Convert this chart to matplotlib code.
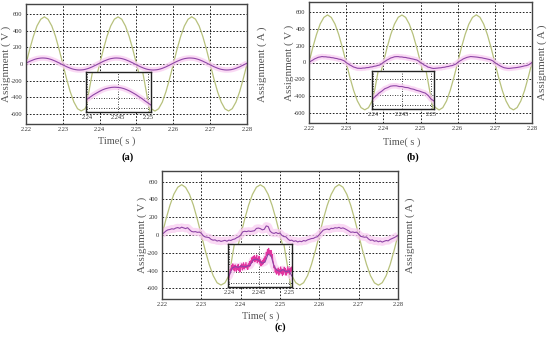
import matplotlib.pyplot as plt
import numpy as np

plt.rcParams['font.family'] = ['Liberation Serif', 'DejaVu Serif']
plt.rcParams['axes.unicode_minus'] = False

# grid voltage, one sample per 1 ms from 2.22 s to 2.28 s
voltage = [0, 176, 331, 458, 537, 566, 536, 457, 333, 174,
           0, -175, -332, -456, -537, -563, -538, -457, -331, -176,
           0, 175, 333, 457, 538, 565, 537, 456, 332, 175,
           0, -174, -333, -457, -536, -565, -537, -458, -332, -175,
           0, 176, 332, 456, 537, 567, 538, 457, 331, 174,
           0, -175, -331, -457, -538, -564, -536, -457, -333, -175, 0]

# phase currents, one sample per 0.5 ms
current_a = [10, 21, 32, 41, 50, 58, 64, 68, 71, 72, 71, 69, 65, 59, 52, 43, 34, 23, 13, 1,
             -10, -21, -32, -41, -50, -58, -64, -68, -71, -72, -71, -69, -65, -59, -52, -43, -34, -23, -13, -1,
             10, 21, 32, 41, 50, 58, 64, 68, 71, 72, 71, 69, 65, 59, 52, 43, 34, 23, 13, 1,
             -10, -21, -32, -41, -50, -58, -64, -68, -71, -72, -71, -69, -65, -59, -52, -43, -34, -23, -13, -1,
             10, 21, 32, 41, 50, 58, 64, 68, 71, 72, 71, 69, 65, 59, 52, 43, 34, 23, 13, 1,
             -10, -21, -32, -41, -50, -58, -64, -68, -71, -72, -71, -69, -65, -59, -52, -43, -34, -23, -13, -1,
             10]

current_b = [2, 16, 28, 43, 52, 62, 66, 71, 68, 68, 64, 63, 58, 56, 50, 47, 40, 37, 28, 19,
             -1, -14, -30, -41, -54, -60, -68, -69, -70, -66, -66, -61, -60, -54, -52, -45, -42, -35, -30, -17,
             1, 15, 30, 41, 54, 60, 68, 70, 70, 66, 66, 61, 60, 54, 51, 45, 41, 35, 30, 17,
             -3, -13, -31, -40, -55, -59, -67, -71, -69, -67, -64, -63, -58, -56, -50, -47, -40, -37, -28, -19,
             0, 16, 28, 43, 52, 61, 66, 71, 69, 67, 65, 62, 58, 56, 50, 46, 41, 36, 29, 18,
             -2, -15, -29, -42, -53, -62, -66, -70, -70, -67, -64, -62, -59, -55, -51, -46, -40, -37, -29, -17,
             1]

current_c = [8, 25, 45, 58, 62, 70, 66, 78, 84, 75, 88, 80, 72, 82, 60, 40, 35, 38, 30, 33,
             20, -10, -22, -25, -30, -50, -58, -55, -68, -62, -72, -66, -60, -70, -58, -62, -50, -45, -30, -20,
             -2, 35, 42, 38, 45, 40, 44, 48, 74, 78, 72, 58, 64, 102, 95, 42, 24, 18, 28, 16,
             22, -5, -18, -20, -45, -62, -58, -72, -65, -78, -70, -75, -62, -68, -55, -48, -40, -38, -25, -20,
             5, 30, 55, 62, 68, 60, 75, 72, 82, 78, 86, 74, 80, 70, 58, 45, 30, 34, 28, 32,
             10, -15, -20, -25, -22, -45, -60, -55, -70, -64, -76, -68, -80, -70, -62, -66, -50, -40, -30, -18,
             -5]

# unfiltered current of (c) inside the zoom window, one sample per 0.1 ms from 2.2398 s
raw_c = [-40, -20, -5, 10, 30, 22, 48, 30, 55, 25, 45, 20, 50, 35, 18, 45, 28, 52, 22, 40,
         15, 48, 36, 55, 25, 42, 60, 30, 50, 38, 62, 35, 48, 28, 55, 40, 66, 45, 70, 58,
         85, 62, 90, 70, 95, 65, 88, 72, 98, 60, 82, 66, 92, 58, 75, 45, 68, 50, 72, 55,
         80, 62, 90, 78, 110, 95, 125, 100, 130, 105, 118, 92, 120, 85, 100, 70, 58, 35, 45, 15,
         30, 5, 25, 10, 35, 0, 28, 12, 40, 8, 30, -2, 22, 5, 38, 15, 32, 0, 25, 10,
         42, 12, 30, 5, 35, 18, 40, 20, 30]

x_ticks = [2.22, 2.23, 2.24, 2.25, 2.26, 2.27, 2.28]
y_ticks = [-600, -400, -200, 0, 200, 400, 600]
zoom_ticks = [2.24, 2.245, 2.25]
zoom_tick_labels = ['2.24', '2.245', '2.25']

t_v = np.linspace(2.22, 2.28, len(voltage))
t_i = np.linspace(2.22, 2.28, len(current_a))
t_raw = 2.2398 + 0.0001 * np.arange(len(raw_c))

W, H = 550, 344
fig = plt.figure(figsize=(W / 100, H / 100), dpi=100)


def px(l, t, r, b):
    return [l / W, 1 - b / H, (r - l) / W, (b - t) / H]


def put(x, y, s, **kw):
    fig.text(x / W, 1 - y / H, s, ha='center', va='center', **kw)


GREEN = '#b7c17c'
PURPLE = '#8e44a6'
PINK = '#f9cdf1'
MAGENTA = '#e2349e'
GRID = dict(color='k', linestyle=(0, (2, 2)), linewidth=0.6)


def draw(ax, current, band):
    ax.plot(t_v, voltage, color=GREEN, lw=0.9)
    ax.plot(t_i, current, color=PINK, lw=band, alpha=0.75, solid_capstyle='butt')
    ax.plot(t_i, current, color=PURPLE, lw=0.8)


def panel(box, zoom_box, current, band, letter, ylab_l, ylab_r, xlab, let_pos, raw=False):
    l, t, r, b = box
    ax = fig.add_axes(px(*box))
    draw(ax, current, band)
    ax.set_xlim(2.22, 2.28)
    ax.set_ylim(-720, 720)
    ax.set_xticks(x_ticks)
    ax.set_xticklabels([f'{v:.2f}' for v in x_ticks])
    ax.set_yticks(y_ticks)
    ax.tick_params(labelsize=4.6, length=0, pad=2.5, labelcolor='#333333')
    ax.grid(True, **GRID)
    for s in ax.spines.values():
        s.set_color('#444444')
        s.set_linewidth(1)

    ins = fig.add_axes(px(*zoom_box))
    ins.set_facecolor('white')
    if raw:
        ins.plot(t_v, voltage, color=GREEN, lw=0.9)
        ins.plot(t_i, current, color=PINK, lw=band, alpha=0.75)
        ins.plot(t_raw, raw_c, color=MAGENTA, lw=0.8)
        ins.plot(t_i, current, color=PURPLE, lw=0.8)
    else:
        draw(ins, current, band)
    ins.set_xlim(2.2398, 2.2505)
    ins.set_ylim(-57, 151)
    ins.set_xticks(zoom_ticks)
    ins.set_xticklabels(zoom_tick_labels)
    ins.set_yticks([-36, 17, 109])
    ins.set_yticklabels([])
    ins.tick_params(labelsize=4.6, length=0, pad=2.5, labelcolor='#333333')
    ins.grid(True, color='k', linestyle=(0, (1, 2)), linewidth=0.6)
    for s in ins.spines.values():
        s.set_color('#222222')
        s.set_linewidth(1)

    put(ylab_l, (t + b) / 2, 'Assignment ( V )', rotation=90, fontsize=8, color='#555555')
    put(ylab_r, (t + b) / 2, 'Assignment ( A )', rotation=90, fontsize=8, color='#555555')
    put(xlab[0], xlab[1], 'Time( s )', fontsize=7.5, color='#555555')
    put(let_pos[0], let_pos[1], letter, fontsize=7.5, fontweight='bold')


panel((26, 4, 247, 124), (86, 72, 151, 112), current_a, 4, '(a)', 6, 262, (117, 141), (128, 157))
panel((309, 2, 532, 123), (372, 71, 434, 109), current_b, 4, '(b)', 289, 542, (402, 142), (413, 157))
panel((162, 171, 398, 299), (228, 244, 292, 287), current_c, 5.5, '(c)', 142, 410, (261, 316), (280, 327), raw=True)

fig.savefig('out.png', dpi=100)
